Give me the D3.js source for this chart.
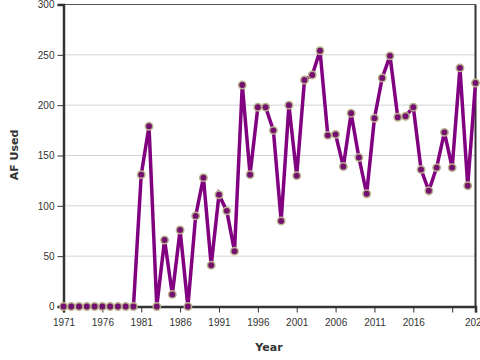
<!DOCTYPE html>
<html>
<head>
<meta charset="utf-8">
<script src="https://cdn.jsdelivr.net/npm/d3@7"></script>
<style>
  body { margin: 0; background: #fff; }
  svg { display: block; font-family: "DejaVu Sans", sans-serif; }
  .grid line { stroke: #d3d3d3; stroke-width: 1; }
  .axis path, .axis line { stroke: #333; }
  .axis text { fill: #333; font-size: 10px; }
  .title { font-weight: bold; font-size: 11px; fill: #333; }
</style>
</head>
<body>
<div id="vis"></div>
<script>
var years = d3.range(1971, 2025);
var afUsed = [
  0, 0, 0, 0, 0, 0, 0, 0, 0, 0,
  131, 179, 0, 66, 12, 76, 0, 90, 128, 41,
  111, 95, 55, 220, 131, 198, 198, 175, 85, 200,
  130, 225, 230, 254, 170, 171, 139, 192, 148, 112,
  187, 227, 249, 188, 189, 198, 136, 115, 138, 173,
  138, 237, 120, 222
];
var yTicks = [0, 50, 100, 150, 200, 250, 300];
var xTicks = [1971, 1976, 1981, 1986, 1991, 1996, 2001, 2006, 2011, 2016, 2021, 2024];
var xLabelHidden = [2021];

var width = 480;
var height = 360;
var margin = { top: 4.5, right: 4.5, bottom: 53.5, left: 63.5 };

var data = years.map(function (y, i) { return { year: y, value: afUsed[i] }; });

var svg = d3.select('#vis')
  .append('svg')
  .attr('width', width)
  .attr('height', height);

var x = d3.scaleLinear()
  .domain([1971, 2024])
  .range([margin.left, width - margin.right]);

var y = d3.scaleLinear()
  .domain([0, 300])
  .range([height - margin.bottom, margin.top]);

// horizontal grid lines
svg.append('g')
  .attr('class', 'grid')
  .selectAll('line')
  .data(yTicks.slice(1))
  .enter()
  .append('line')
  .attr('x1', x.range()[0])
  .attr('x2', x.range()[1])
  .attr('y1', function (d) { return y(d); })
  .attr('y2', function (d) { return y(d); });

// frame on top and right
svg.append('line')
  .attr('x1', x.range()[0]).attr('x2', x.range()[1])
  .attr('y1', y(300)).attr('y2', y(300))
  .attr('stroke', '#555').attr('stroke-width', 1);
svg.append('line')
  .attr('x1', x.range()[1]).attr('x2', x.range()[1])
  .attr('y1', y(300)).attr('y2', y(0))
  .attr('stroke', '#333').attr('stroke-width', 2);

var xAxis = svg.append('g')
  .attr('class', 'axis')
  .attr('transform', 'translate(0,' + y(0) + ')')
  .call(d3.axisBottom(x)
    .tickValues(xTicks)
    .tickSize(6)
    .tickPadding(6)
    .tickFormat(function (d) { return xLabelHidden.indexOf(d) >= 0 ? '' : d; }));
xAxis.select('.domain').attr('stroke-width', 2.5);

var yAxis = svg.append('g')
  .attr('class', 'axis')
  .attr('transform', 'translate(' + x(1971) + ',0)')
  .call(d3.axisLeft(y).tickValues(yTicks).tickSize(6).tickPadding(3));
yAxis.select('.domain').attr('stroke-width', 2.5);

svg.append('text')
  .attr('class', 'title')
  .attr('x', 269)
  .attr('y', 351)
  .attr('text-anchor', 'middle')
  .text('Year');

svg.append('text')
  .attr('class', 'title')
  .attr('transform', 'translate(18,' + 155 + ') rotate(-90)')
  .attr('text-anchor', 'middle')
  .text('AF Used');

var line = d3.line()
  .x(function (d) { return x(d.year); })
  .y(function (d) { return y(d.value); });

svg.append('path')
  .datum(data)
  .attr('fill', 'none')
  .attr('stroke', '#800080')
  .attr('stroke-width', 3.5)
  .attr('stroke-linejoin', 'miter')
  .attr('d', line);

svg.append('g')
  .selectAll('circle')
  .data(data)
  .enter()
  .append('circle')
  .attr('cx', function (d) { return x(d.year); })
  .attr('cy', function (d) { return y(d.value); })
  .attr('r', 3.7)
  .attr('fill', '#74106f')
  .attr('stroke', '#b9b08c')
  .attr('stroke-width', 1.5);
</script>
</body>
</html>
